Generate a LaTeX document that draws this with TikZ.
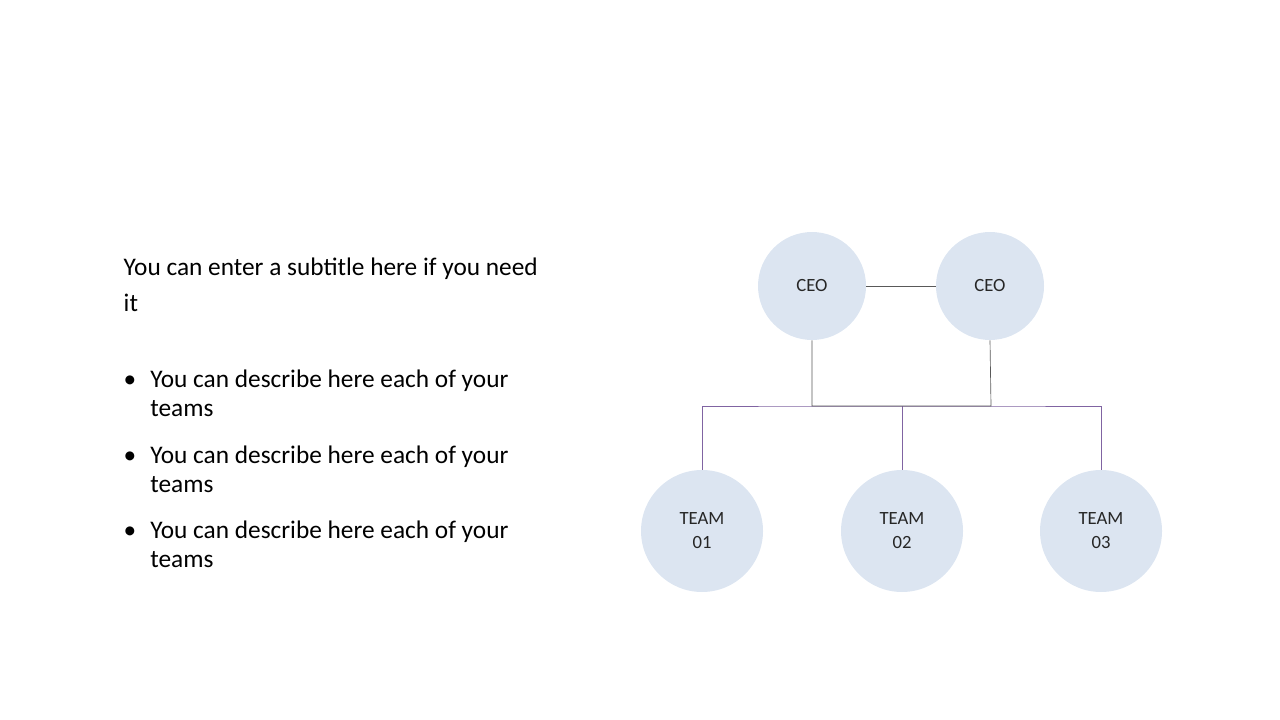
\documentclass[tikz,border=0pt]{standalone}
\usepackage{fontspec}
\setmainfont{Carlito}
\begin{document}
\begin{tikzpicture}[x=0.75pt,y=-0.75pt,
  circ/.style={circle,fill=cfill,draw=none,align=center,font=\fontsize{14}{18}\selectfont,text=black!85},
  gl/.style={draw=black!65,line width=0.5pt},
  pl/.style={draw=plin,line width=0.6pt},
  bul/.style={anchor=north west,align=flush left,text width=320pt,font=\fontsize{19}{22}\selectfont}]
\definecolor{cfill}{HTML}{DCE5F1}
\definecolor{plin}{HTML}{8064A2}
\useasboundingbox (0,0) rectangle (1280,720);
\node[circ,minimum size=81pt] (c1) at (812,286) {CEO};
\node[circ,minimum size=81pt] (c2) at (990,286) {CEO};
\node[circ,minimum size=91.5pt] (t1) at (702,531) {TEAM\\01};
\node[circ,minimum size=91.5pt] (t2) at (902,531) {TEAM\\02};
\node[circ,minimum size=91.5pt] (t3) at (1101,531) {TEAM\\03};
\coordinate (j1) at (813,406);
\coordinate (j2) at (991,406);
\draw[gl] (c1) -- (c2);
\draw[pl] (t1.north) |- (j1) -- (j2) -| (t3.north);
\draw[pl] (t2.north) -- (t2.north |- j1);
\draw[gl] (c1.south) -- (c1.south |- j1) -- (j2) -- (c2.south);
\node[anchor=north west,align=flush left,text width=318pt,font=\fontsize{19}{27}\selectfont] (sub) at (119,253) {You can enter a subtitle here if you need it};
\node[bul] (b1) at (119,365) {\makebox[20pt][l]{\textbullet}You can describe here each of your\\\hspace*{20pt}teams};
\node[bul] (b2) at (119,441) {\makebox[20pt][l]{\textbullet}You can describe here each of your\\\hspace*{20pt}teams};
\node[bul] (b3) at (119,516) {\makebox[20pt][l]{\textbullet}You can describe here each of your\\\hspace*{20pt}teams};
\end{tikzpicture}
\end{document}
